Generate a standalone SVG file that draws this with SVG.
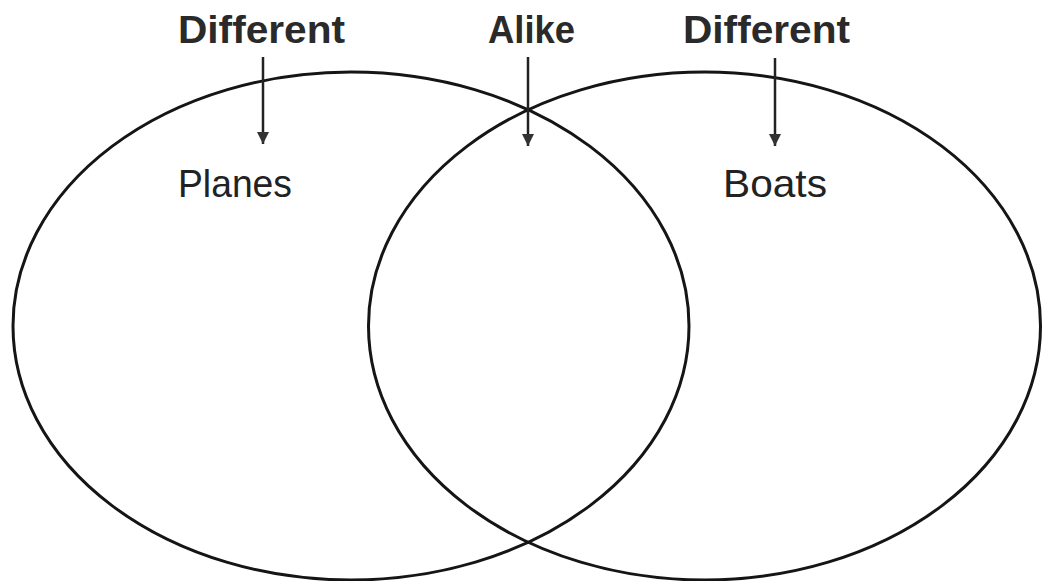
<svg xmlns="http://www.w3.org/2000/svg" width="1042" height="581" viewBox="0 0 1042 581">
<defs>
<style>
.c{fill:none;stroke:#151515;stroke-width:3}
.h{font-family:"Liberation Sans",Arial,sans-serif;font-weight:bold;font-size:39px;fill:#2a2a2a}
.l{font-family:"Liberation Sans",Arial,sans-serif;font-size:39px;fill:#222}
.a{stroke:#222;stroke-width:2.5}
</style>
<marker id="ah" viewBox="0 0 10 10" refX="10" refY="5" markerWidth="5" markerHeight="5" orient="auto" markerUnits="strokeWidth">
<path d="M0,0 L10,5 L0,10 z" fill="#333"/>
</marker>
</defs>
<g id="left-circle"><ellipse class="c" cx="351" cy="326" rx="338" ry="254"/></g>
<g id="right-circle"><ellipse class="c" cx="704.5" cy="326" rx="336" ry="254"/></g>
<g id="label-different-left"><text class="h" x="178" y="43" textLength="167" lengthAdjust="spacingAndGlyphs">Different</text></g>
<g id="label-alike"><text class="h" x="488" y="43" textLength="87" lengthAdjust="spacingAndGlyphs">Alike</text></g>
<g id="label-different-right"><text class="h" x="683" y="43" textLength="167" lengthAdjust="spacingAndGlyphs">Different</text></g>
<g id="planes"><text class="l" x="178" y="197" textLength="114" lengthAdjust="spacingAndGlyphs">Planes</text></g>
<g id="boats"><text class="l" x="723" y="197" textLength="104" lengthAdjust="spacingAndGlyphs">Boats</text></g>
<g id="connectors">
<line class="a" x1="263" y1="57" x2="263" y2="144" marker-end="url(#ah)"/>
<line class="a" x1="528" y1="57" x2="528" y2="146" marker-end="url(#ah)"/>
<line class="a" x1="775" y1="58" x2="775" y2="146" marker-end="url(#ah)"/>
</g>
</svg>
